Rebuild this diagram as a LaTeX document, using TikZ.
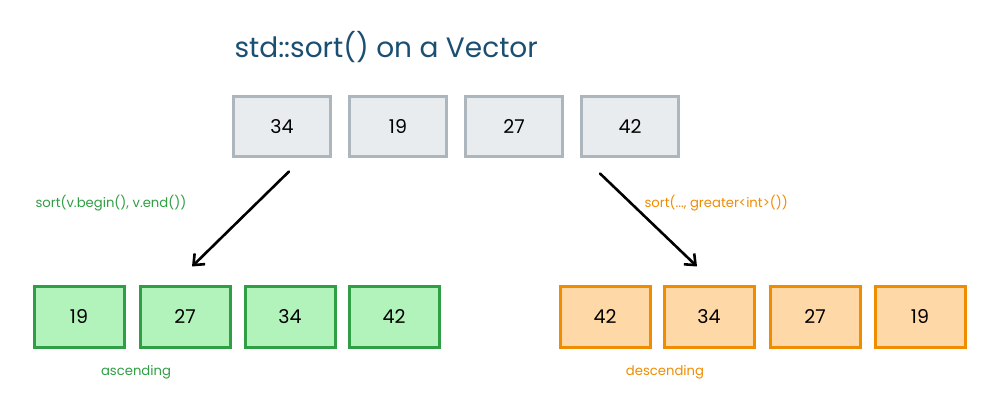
\documentclass[tikz,border=0pt]{standalone}
\usepackage{fontspec}
\setmainfont{Poppins}
\usetikzlibrary{calc,arrows.meta}
\definecolor{titleblue}{HTML}{1B4F72}
\definecolor{grayfill}{HTML}{E9ECEF}
\definecolor{grayline}{HTML}{ADB5BD}
\definecolor{greenfill}{HTML}{B2F2BB}
\definecolor{greenline}{HTML}{2F9E44}
\definecolor{orangefill}{HTML}{FFD8A8}
\definecolor{orangeline}{HTML}{F08C00}
\tikzset{
  cell/.style={draw=grayline, fill=grayfill, line width=3pt, minimum width=97pt,
    minimum height=60pt, font=\fontsize{19}{21}\selectfont},
  ascbox/.style={cell, draw=greenline, fill=greenfill, minimum width=90pt},
  descbox/.style={cell, draw=orangeline, fill=orangefill, minimum width=90pt},
  call/.style={font=\fontsize{13.2}{15}\selectfont},
  sortarrow/.style={line width=2.6pt, -{Straight Barb[length=9pt, width=15pt]}, line cap=round},
}
\begin{document}
\begin{tikzpicture}[x=1pt, y=-1pt]
  \useasboundingbox (0,0) rectangle (1000,419);
  \node[text=titleblue, font=\fontsize{28}{30}\selectfont, anchor=west] (title) at (231,47) {std::sort() on a Vector};
  % unsorted vector
  \node[cell] (t1) at (282,127) {34};
  \node[cell] (t2) at (398,127) {19};
  \node[cell] (t3) at (514,127) {27};
  \node[cell] (t4) at (630,127) {42};
  % ascending result
  \node[ascbox] (a1) at (79,317) {19};
  \node[ascbox] (a2) at (185,317) {27};
  \node[ascbox] (a3) at (290,317) {34};
  \node[ascbox] (a4) at (394,317) {42};
  % descending result
  \node[descbox] (d1) at (605,317) {42};
  \node[descbox] (d2) at (709,317) {34};
  \node[descbox] (d3) at (815,317) {27};
  \node[descbox] (d4) at (920,317) {19};
  \draw[sortarrow] ($(t1.south)+(7,13)$) -- ($(a2.north)+(7,-19)$);
  \draw[sortarrow] ($(t4.south west)+(20,15)$) -- ($(d2.north)+(-12,-19)$);
  \node[call, text=greenline, anchor=west] (ascall) at (32,203) {sort(v.begin(), v.end())};
  \node[call, text=orangeline, anchor=west] (desccall) at (641,203) {sort(..., greater<int>())};
  \node[call, text=greenline] (asclabel) at (136,372) {ascending};
  \node[call, text=orangeline] (desclabel) at (665,372) {descending};
\end{tikzpicture}
\end{document}
